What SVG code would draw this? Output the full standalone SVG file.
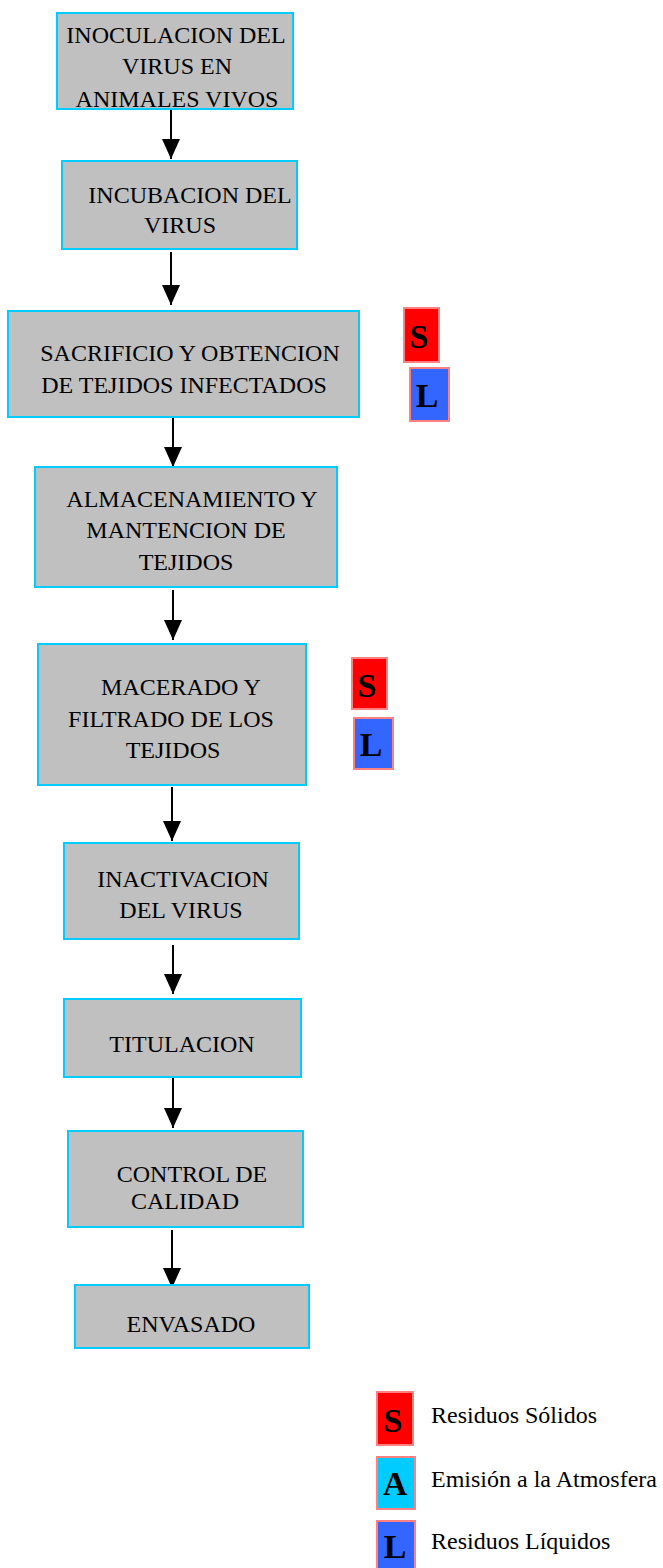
<svg xmlns="http://www.w3.org/2000/svg" width="663" height="1568" viewBox="0 0 663 1568">
<style>
.box{fill:#C0C0C0;stroke:#00CCFF;stroke-width:2}
.t{font-family:"Liberation Serif","Times New Roman",serif;font-size:24px;fill:#000;text-anchor:middle}
.lg{font-family:"Liberation Serif","Times New Roman",serif;font-size:24px;fill:#000}
.tag{font-family:"Liberation Serif","Times New Roman",serif;font-size:34px;font-weight:bold;fill:#000;text-anchor:middle}
.sS{fill:#FF0000;stroke:#FF8080;stroke-width:2}
.sL{fill:#3366FF;stroke:#FF8080;stroke-width:2}
.sA{fill:#00CCFF;stroke:#FF8080;stroke-width:2}
.c{stroke:#000;stroke-width:2;fill:none}
</style>
<defs>
<marker id="ah" viewBox="0 0 20 18" refX="20" refY="9" markerWidth="20" markerHeight="18" markerUnits="userSpaceOnUse" orient="auto">
<path d="M0,0 L20,9 L0,18 Z" fill="#000"/>
</marker>
</defs>
<rect width="663" height="1568" fill="#fff"/>
<g id="connectors">
<line class="c" x1="171" y1="109" x2="171" y2="159" marker-end="url(#ah)"/>
<line class="c" x1="171" y1="252" x2="171" y2="305" marker-end="url(#ah)"/>
<line class="c" x1="173" y1="417" x2="173" y2="467" marker-end="url(#ah)"/>
<line class="c" x1="173" y1="590" x2="173" y2="640" marker-end="url(#ah)"/>
<line class="c" x1="172" y1="787" x2="172" y2="841" marker-end="url(#ah)"/>
<line class="c" x1="173" y1="945" x2="173" y2="994" marker-end="url(#ah)"/>
<line class="c" x1="173" y1="1077" x2="173" y2="1128" marker-end="url(#ah)"/>
<line class="c" x1="172" y1="1230" x2="172" y2="1288" marker-end="url(#ah)"/>
</g>
<g id="n1"><rect class="box" x="57" y="13" width="236" height="96"/>
<text class="t" x="176" y="43">INOCULACION DEL</text><text class="t" x="177" y="74">VIRUS EN</text><text class="t" x="177" y="107">ANIMALES VIVOS</text></g>
<g id="n2"><rect class="box" x="62" y="161" width="235" height="88"/>
<text class="t" x="190" y="203">INCUBACION DEL</text><text class="t" x="180" y="233">VIRUS</text></g>
<g id="n3"><rect class="box" x="8" y="311" width="351" height="106"/>
<text class="t" x="190" y="361">SACRIFICIO Y OBTENCION</text><text class="t" x="184" y="393">DE TEJIDOS INFECTADOS</text></g>
<g id="n4"><rect class="box" x="35" y="467" width="302" height="120"/>
<text class="t" x="192" y="507">ALMACENAMIENTO Y</text><text class="t" x="186" y="538">MANTENCION DE</text><text class="t" x="186" y="570">TEJIDOS</text></g>
<g id="n5"><rect class="box" x="38" y="644" width="268" height="141"/>
<text class="t" x="181" y="695">MACERADO Y</text><text class="t" x="171" y="727">FILTRADO DE LOS</text><text class="t" x="173" y="758">TEJIDOS</text></g>
<g id="n6"><rect class="box" x="64" y="843" width="235" height="96"/>
<text class="t" x="183" y="887">INACTIVACION</text><text class="t" x="181" y="918">DEL VIRUS</text></g>
<g id="n7"><rect class="box" x="64" y="999" width="237" height="78"/>
<text class="t" x="182" y="1052">TITULACION</text></g>
<g id="n8"><rect class="box" x="68" y="1131" width="235" height="96"/>
<text class="t" x="192" y="1182">CONTROL DE</text><text class="t" x="185" y="1209">CALIDAD</text></g>
<g id="n9"><rect class="box" x="75" y="1285" width="234" height="63"/>
<text class="t" x="191" y="1332">ENVASADO</text></g>
<g id="tags1"><rect class="sS" x="404" y="308" width="35" height="54"/><text class="tag" x="419" y="348">S</text>
<rect class="sL" x="410" y="368" width="39" height="53"/><text class="tag" x="427" y="407">L</text></g>
<g id="tags2"><rect class="sS" x="352" y="658" width="35" height="51"/><text class="tag" x="367" y="697">S</text>
<rect class="sL" x="354" y="718" width="39" height="51"/><text class="tag" x="371" y="756">L</text></g>
<g id="legend">
<rect class="sS" x="377" y="1392" width="36" height="53"/><text class="tag" x="393" y="1432">S</text>
<text class="lg" x="431" y="1423">Residuos Sólidos</text>
<rect class="sA" x="377" y="1457" width="38" height="52"/><text class="tag" x="395" y="1495">A</text>
<text class="lg" x="431" y="1487">Emisión a la Atmosfera</text>
<rect class="sL" x="377" y="1521" width="38" height="53"/><text class="tag" x="395" y="1558">L</text>
<text class="lg" x="431" y="1549">Residuos Líquidos</text>
</g>
</svg>
